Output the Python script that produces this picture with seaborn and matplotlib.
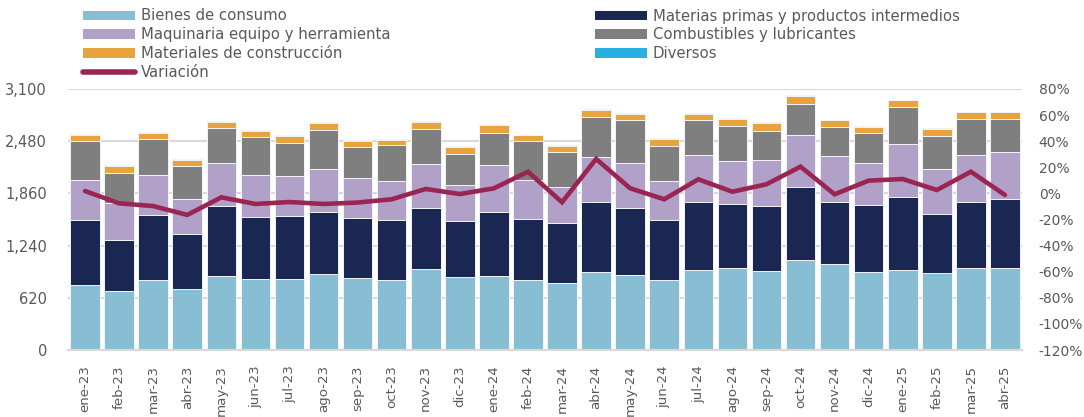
import numpy as np
import pandas as pd
import matplotlib
matplotlib.use("Agg")
import matplotlib.pyplot as plt
from matplotlib.patches import Patch
from matplotlib.lines import Line2D
from matplotlib.ticker import FuncFormatter, MultipleLocator
import seaborn as sns

# Importaciones mensuales por tipo de bien (millones) y variación interanual (%)
meses = ["ene-23", "feb-23", "mar-23", "abr-23", "may-23", "jun-23", "jul-23",
         "ago-23", "sep-23", "oct-23", "nov-23", "dic-23", "ene-24", "feb-24",
         "mar-24", "abr-24", "may-24", "jun-24", "jul-24", "ago-24", "sep-24",
         "oct-24", "nov-24", "dic-24", "ene-25", "feb-25", "mar-25", "abr-25"]

bienes_consumo = [767, 695, 831, 723, 874, 839, 847, 902, 858, 827, 962, 862, 878, 827,
                  791, 922, 886, 835, 950, 974, 934, 1073, 1025, 930, 954, 914, 978, 978]
materias_primas = [783, 608, 774, 656, 839, 743, 739, 739, 708, 715, 727, 668, 759, 727,
                   715, 835, 795, 707, 810, 759, 779, 866, 728, 795, 862, 703, 779, 818]
maquinaria = [469, 438, 473, 413, 508, 500, 480, 505, 477, 469, 521, 429, 561, 465,
              425, 536, 540, 465, 557, 514, 544, 616, 556, 496, 636, 533, 560, 557]
combustibles = [465, 365, 426, 398, 418, 453, 398, 469, 373, 425, 417, 374, 385, 465,
                426, 469, 505, 421, 409, 408, 350, 370, 342, 354, 429, 397, 421, 393]
materiales = [71, 80, 71, 67, 71, 72, 79, 79, 68, 60, 83, 83, 84, 67,
              71, 83, 76, 80, 76, 87, 87, 87, 75, 76, 84, 76, 84, 76]
diversos = [12, 8, 10, 8, 9, 9, 8, 9, 10, 9, 9, 10, 9, 8,
            9, 12, 9, 10, 9, 9, 10, 12, 10, 9, 10, 9, 10, 10]
variacion = [1.8, -7.6, -9.7, -16.5, -3.0, -8.1, -6.6, -8.1, -7.0, -4.5, 3.4, -0.5, 3.9, 16.6,
             -6.8, 26.4, 3.9, -4.5, 10.8, 1.3, 7.0, 20.5, -0.7, 9.8, 11.0, 2.6, 16.6, -1.2]

series = [
    ("Bienes de consumo", bienes_consumo, "#88BED4"),
    ("Materias primas y productos intermedios", materias_primas, "#1B2753"),
    ("Maquinaria equipo y herramienta", maquinaria, "#B1A0C8"),
    ("Combustibles y lubricantes", combustibles, "#7F7F7F"),
    ("Materiales de construcción", materiales, "#E8A33D"),
    ("Diversos", diversos, "#29B0E0"),
]
color_linea = "#9B2552"
gris_texto = "#595959"
gris_grid = "#D9D9D9"

sns.set_theme(style="white")
plt.rcParams["font.family"] = ["DejaVu Sans"]

fig = plt.figure(figsize=(10.84, 4.17), dpi=100)
ax = fig.add_axes([68 / 1084, 1 - 350 / 417, (1022 - 68) / 1084, (350 - 89) / 417])

# Stacked bars: draw cumulative totals from the top layer down
df = pd.DataFrame({"mes": meses})
acumulado = np.zeros(len(meses))
capas = []
for nombre, valores, color in series:
    acumulado = acumulado + np.array(valores, dtype=float)
    capas.append((nombre, acumulado.copy(), color))
for nombre, tope, color in reversed(capas):
    sns.barplot(x=df["mes"], y=tope, color=color, saturation=1, width=0.87,
                edgecolor="#F2F5F7", linewidth=0.7, ax=ax, zorder=2)

ax.set_xlim(-0.5, len(meses) - 0.5)
ax.set_ylim(0, 3100)
ax.yaxis.set_major_locator(MultipleLocator(620))
ax.yaxis.set_major_formatter(FuncFormatter(lambda v, p: f"{v:,.0f}"))
ax.grid(axis="y", color=gris_grid, linewidth=1.5, zorder=0)
ax.set_axisbelow(True)
ax.set_xlabel("")
ax.set_ylabel("")
for s in ["top", "right", "left"]:
    ax.spines[s].set_visible(False)
ax.spines["bottom"].set_color(gris_grid)
ax.spines["bottom"].set_linewidth(1.5)
ax.tick_params(axis="x", labelrotation=90, labelsize=9.6, colors=gris_texto, length=0, pad=11)
ax.tick_params(axis="y", labelsize=10.5, colors=gris_texto, length=0, pad=15)

# Year-on-year change on the secondary axis
ax2 = ax.twinx()
sns.lineplot(x=np.arange(len(meses)), y=variacion, color=color_linea, linewidth=3.3,
             ax=ax2, solid_capstyle="round", solid_joinstyle="miter")
ax2.set_ylim(-120, 80)
ax2.yaxis.set_major_locator(MultipleLocator(20))
ax2.yaxis.set_major_formatter(FuncFormatter(lambda v, p: f"{v:.0f}%"))
ax2.set_ylabel("")
for s in ax2.spines.values():
    s.set_visible(False)
ax2.tick_params(axis="y", labelsize=10, colors=gris_texto, length=0, pad=12)
ax2.set_xlim(-0.5, len(meses) - 0.5)

# Legend in two columns
h = {n: Patch(facecolor=c, edgecolor="none") for n, _, c in series}
h_linea = Line2D([0], [0], color=color_linea, linewidth=4, solid_capstyle="round")
opts = dict(loc="upper left", frameon=False, fontsize=10.7, labelcolor=gris_texto,
            handlelength=3.5, handleheight=0.6, handletextpad=0.38,
            labelspacing=0.26, borderpad=0, borderaxespad=0)
izq = ["Bienes de consumo", "Maquinaria equipo y herramienta", "Materiales de construcción"]
der = ["Materias primas y productos intermedios", "Combustibles y lubricantes", "Diversos"]
fig.legend([h[n] for n in izq] + [h_linea], izq + ["Variación"],
           bbox_to_anchor=(83 / 1084, 1 - 8.5 / 417), **opts)
fig.legend([h[n] for n in der], der,
           bbox_to_anchor=(595 / 1084, 1 - 8.5 / 417), **opts)

fig.savefig("out.png", dpi=100)
